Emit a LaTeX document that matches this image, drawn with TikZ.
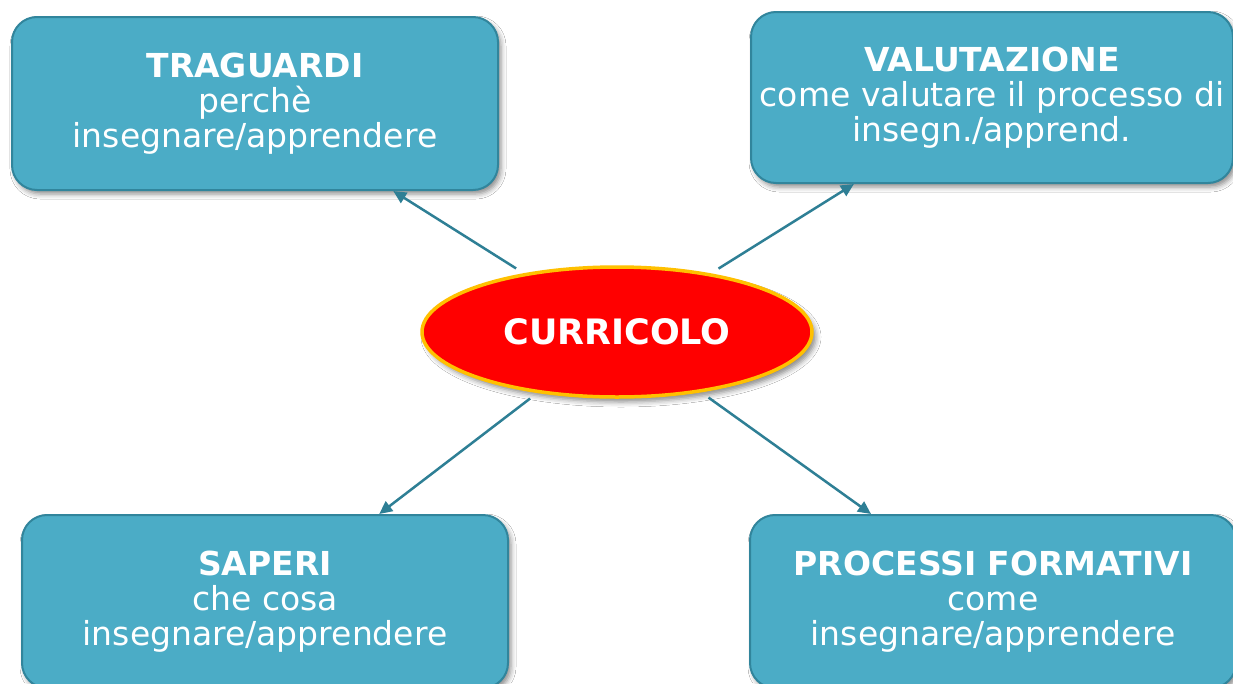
\documentclass[tikz,border=0pt]{standalone}
\usepackage{fontspec}
\setmainfont{DejaVu Sans}
\usetikzlibrary{shapes.geometric,arrows.meta,shadows.blur}
\definecolor{boxfill}{HTML}{4BACC6}
\definecolor{boxline}{HTML}{31859C}
\definecolor{arrowcol}{HTML}{2E7F95}
\definecolor{ringcol}{HTML}{FFC000}
\begin{document}
\begin{tikzpicture}[x=1pt,y=-1pt,
  box/.style={draw=boxline, line width=2pt, fill=boxfill, rounded corners=25pt,
    text=white, align=center, inner sep=0pt,
    font=\fontsize{33}{35}\selectfont,
    blur shadow={shadow xshift=3pt, shadow yshift=-4pt, shadow blur radius=5pt, shadow opacity=45}},
  core/.style={ellipse, draw=ringcol, line width=3.5pt, fill=red, text=white,
    inner sep=0pt, minimum width=390pt, minimum height=130pt,
    font=\fontsize{35}{40}\selectfont\bfseries,
    blur shadow={shadow xshift=4pt, shadow yshift=-5pt, shadow blur radius=5pt, shadow opacity=45}},
  conn/.style={draw=arrowcol, line width=2.5pt, shorten <=9pt,
    -{Triangle[length=13pt,width=12pt]}}
]
\useasboundingbox (0,0) rectangle (1233,683);
\fill[white] (0,0) rectangle (1233,683);
\begin{scope}
\clip (0,0) rectangle (1233,683);
\node[box, minimum width=486pt, minimum height=173pt] (t) at (255,103.5)
  {\textbf{TRAGUARDI}\\perchè\\insegnare/apprendere};
\node[box, minimum width=482pt, minimum height=171pt] (v) at (992,97.5)
  {\textbf{VALUTAZIONE}\\come valutare il processo di\\insegn./apprend.};
\node[box, minimum width=486pt, minimum height=173pt] (s) at (265,601.5)
  {\textbf{SAPERI}\\che cosa\\insegnare/apprendere};
\node[box, minimum width=486pt, minimum height=173pt] (p) at (993,601.5)
  {\textbf{PROCESSI FORMATIVI}\\come\\insegnare/apprendere};
\node[core] (c) at (617,332) {CURRICOLO};
\draw[conn] (c) -- (t);
\draw[conn] (c) -- (v);
\draw[conn] (c) -- (s);
\draw[conn] (c) -- (p);
\end{scope}
\end{tikzpicture}
\end{document}
